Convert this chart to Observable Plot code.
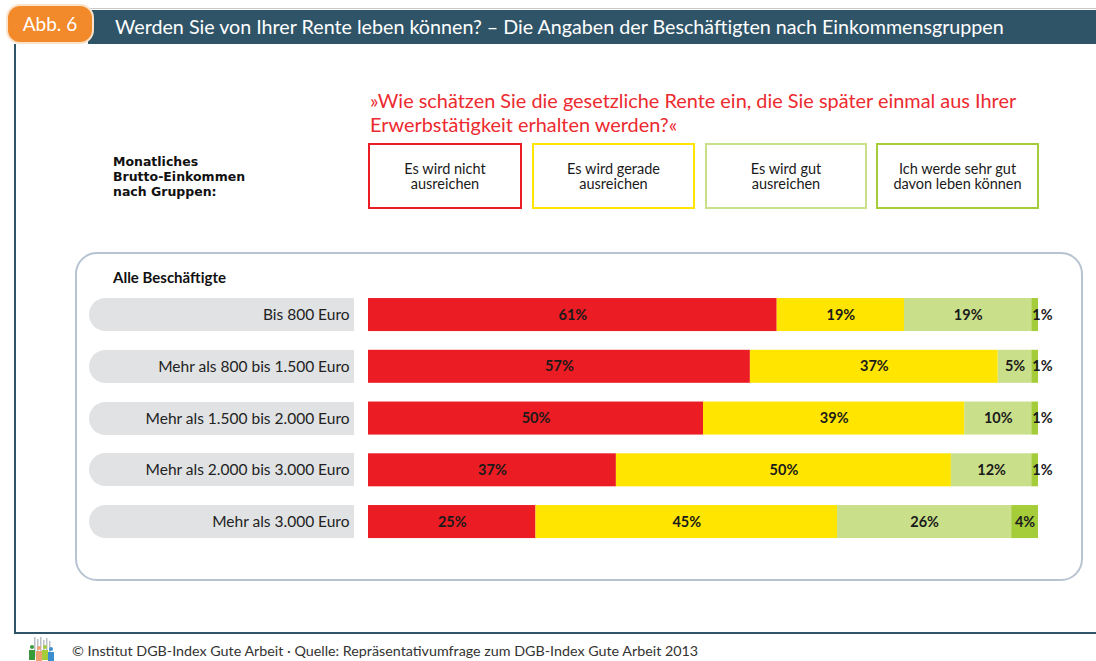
<!DOCTYPE html>
<html><head><meta charset="utf-8">
<script src="https://cdn.jsdelivr.net/npm/d3@7"></script>
<script src="https://cdn.jsdelivr.net/npm/@observablehq/plot@0.6"></script>
<style>
body{margin:0;background:#fff;font-family:Lato,"Open Sans",sans-serif;}
#page{position:relative;width:1096px;height:661px;overflow:hidden;background:#fff;}
.abs{position:absolute;box-sizing:border-box;}
.leg{position:absolute;box-sizing:border-box;top:143px;height:66px;border:2px solid;display:flex;align-items:center;justify-content:center;text-align:center;font-size:14.5px;line-height:15.5px;color:#1a1a1a;background:#fff;}
.pill{position:absolute;background:#e1e2e4;border-radius:17px 0 0 17px;}
#chart{position:absolute;left:0;top:0;}
</style></head><body><div id="page">
<div class="abs" style="left:88px;top:8px;width:1008px;height:1px;background:#c9c9c9"></div>
<div class="abs" style="left:88px;top:10px;width:1008px;height:34px;background:#2f5468"></div>
<div class="abs" style="left:115px;top:10px;height:34px;line-height:34px;font-size:19.7px;color:#fff;white-space:nowrap">Werden Sie von Ihrer Rente leben können? – Die Angaben der Beschäftigten nach Einkommensgruppen</div>
<div class="abs" style="left:6px;top:4px;width:88px;height:40px;background:#f2892a;border-radius:14px;border:2px solid #fbe3cc;color:#fff;font-size:19px;line-height:36px;text-align:center">Abb. 6</div>
<div class="abs" style="left:14px;top:44px;width:2px;height:590px;background:#2f5468"></div>
<div class="abs" style="left:14px;top:632px;width:1082px;height:2px;background:#2f5468"></div>
<div class="abs" id="question" style="left:370px;top:88px;font-size:19.9px;line-height:24px;color:#ec2a30;white-space:nowrap"></div>
<div class="abs" style="left:113px;top:154px;font-family:'DejaVu Sans',sans-serif;font-size:12.5px;line-height:15px;font-weight:700;color:#111">Monatliches<br>Brutto-Einkommen<br>nach Gruppen:</div>
<div id="legend"></div>
<div class="abs" style="left:75px;top:252px;width:1008px;height:329px;border:2px solid #b7c3d1;border-radius:22px"></div>
<div class="abs" style="left:113px;top:268px;font-size:15px;font-weight:700;color:#111">Alle Beschäftigte</div>
<div id="pills"></div>
<div id="chart"></div>
<svg class="abs" style="left:26px;top:637px" width="32" height="24">
<rect x="8" y="0" width="1.5" height="20" fill="#b9bec4"/><rect x="11" y="2" width="1.5" height="18" fill="#b9bec4"/><rect x="14" y="0" width="1.5" height="20" fill="#b9bec4"/><rect x="17" y="3" width="1.5" height="17" fill="#b9bec4"/><rect x="20" y="1" width="1.5" height="19" fill="#b9bec4"/><rect x="23" y="4" width="1.5" height="16" fill="#b9bec4"/>
<circle cx="6" cy="10" r="2" fill="#3a9a3a"/><rect x="3" y="13" width="6" height="10" fill="#3a9a3a"/>
<circle cx="13" cy="11" r="2" fill="#f0a070"/><rect x="10" y="14" width="6" height="10" fill="#f0a070"/>
<circle cx="19" cy="10" r="2" fill="#a5cd3a"/><rect x="16" y="13" width="6" height="10" fill="#a5cd3a"/>
<circle cx="25" cy="12" r="2" fill="#3b8fd0"/><rect x="22" y="15" width="6" height="9" fill="#3b8fd0"/>
</svg>
<div class="abs" style="left:72px;top:642px;font-size:14.3px;line-height:18px;color:#333;white-space:nowrap">© Institut DGB-Index Gute Arbeit · Quelle: Repräsentativumfrage zum DGB-Index Gute Arbeit 2013</div>
</div>
<script>
const question = ["»Wie schätzen Sie die gesetzliche Rente ein, die Sie später einmal aus Ihrer", "Erwerbstätigkeit erhalten werden?«"];
const groups = ["Bis 800 Euro", "Mehr als 800 bis 1.500 Euro", "Mehr als 1.500 bis 2.000 Euro", "Mehr als 2.000 bis 3.000 Euro", "Mehr als 3.000 Euro"];
const answers = ["Es wird nicht\nausreichen", "Es wird gerade\nausreichen", "Es wird gut\nausreichen", "Ich werde sehr gut\ndavon leben können"];
const nichtAusreichen = [61, 57, 50, 37, 25];
const geradeAusreichen = [19, 37, 39, 50, 45];
const gutAusreichen = [19, 5, 10, 12, 26];
const sehrGut = [1, 1, 1, 1, 4];
const colors = ["#ec1c24", "#ffe500", "#c9df8a", "#a5cd3a"];

document.getElementById("question").innerHTML = question.join("<br>");

const series = [nichtAusreichen, geradeAusreichen, gutAusreichen, sehrGut];
const data = [];
groups.forEach((g, i) => {
  let acc = 0;
  series.forEach((s, k) => {
    const v = s[i];
    data.push({group: g, answer: answers[k], value: v, x1: acc, x2: acc + v, mid: acc + v / 2});
    acc += v;
  });
});

const legendX = [[368, 522], [532, 695], [705, 867], [876, 1039]];
const leg = document.getElementById("legend");
answers.forEach((a, k) => {
  const d = document.createElement("div");
  d.className = "leg";
  d.style.left = legendX[k][0] + "px";
  d.style.width = (legendX[k][1] - legendX[k][0]) + "px";
  d.style.borderColor = colors[k];
  d.innerHTML = a.replace("\n", "<br>");
  leg.appendChild(d);
});

const font = "Lato, 'Open Sans', sans-serif";
const chart = Plot.plot({
  width: 1096, height: 661,
  marginLeft: 368, marginRight: 58, marginTop: 279.3, marginBottom: 104.2,
  style: {background: "transparent", fontFamily: font, fontSize: "15.5px", color: "#222"},
  x: {domain: [0, 100], axis: null},
  y: {domain: groups, paddingInner: 0.362, paddingOuter: 0.362, align: 0.5, round: false, label: null},
  color: {domain: answers, range: colors},
  marks: [
    Plot.barX(data, {x1: "x1", x2: "x2", y: "group", fill: "answer"}),
    Plot.text(data.filter(d => d.value > 2), {x: "mid", y: "group", text: d => d.value + "%", fontSize: 14.5, fontWeight: 700, fill: "#1a1a1a", fontFamily: font}),
    Plot.text(data.filter(d => d.value <= 2), {x: "x1", y: "group", text: d => d.value + "%", textAnchor: "start", dx: 0.5, fontSize: 14.5, fontWeight: 700, fill: "#1a1a1a", fontFamily: font}),
    Plot.axisY({anchor: "left", tickSize: 0, tickPadding: 19, fontSize: 15.5, label: null, fill: "#222"})
  ]
});
document.getElementById("chart").appendChild(chart);

const ys = chart.scale("y");
const pills = document.getElementById("pills");
groups.forEach(g => {
  const p = document.createElement("div");
  p.className = "pill";
  p.style.left = "89px";
  p.style.width = (354 - 89) + "px";
  p.style.top = ys.apply(g) + "px";
  p.style.height = ys.bandwidth + "px";
  pills.appendChild(p);
});
</script>
</body></html>
